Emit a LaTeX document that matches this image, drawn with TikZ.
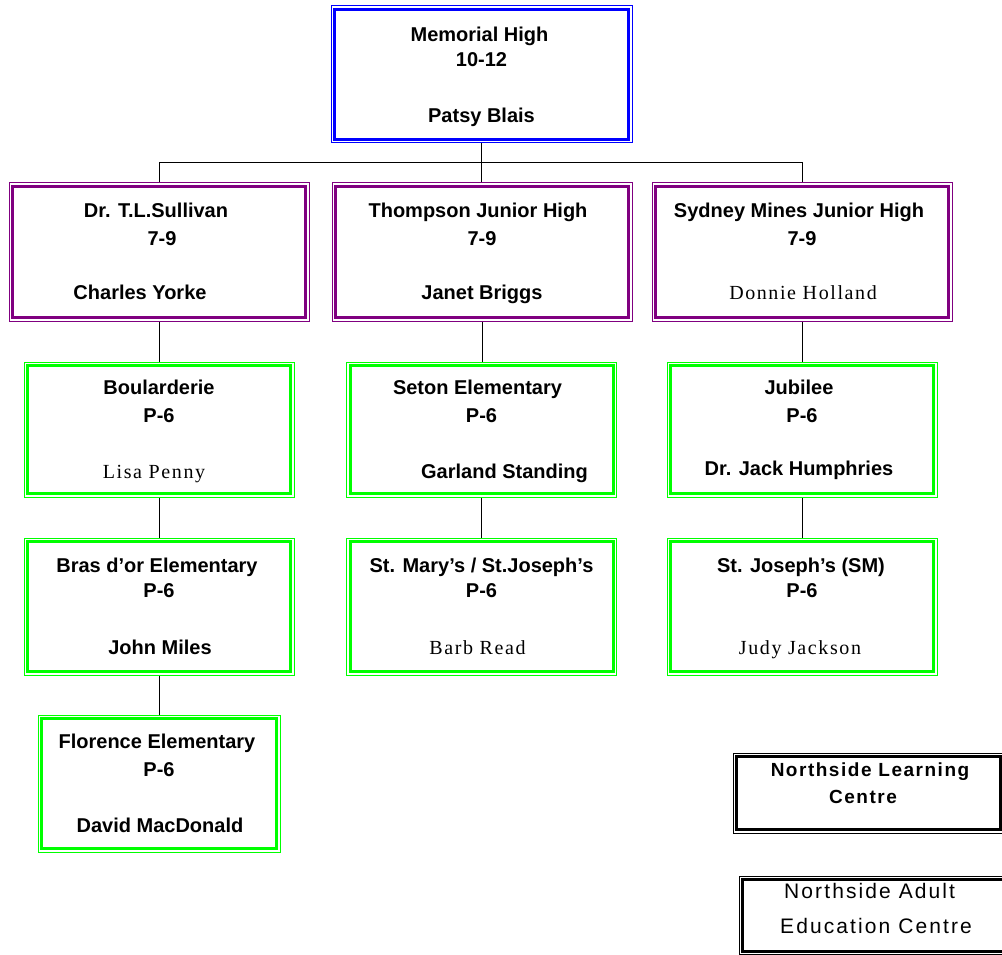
\documentclass[tikz,border=0pt]{standalone}
\usepackage{fontspec}
\setmainfont{Liberation Sans}
\newfontfamily\serifnm{Liberation Serif}[LetterSpace=8]
\newfontfamily\widebold{Liberation Sans}[LetterSpace=8]
\newfontfamily\widereg{Liberation Sans}[LetterSpace=10]
\usetikzlibrary{backgrounds,calc}
\definecolor{mhblue}{RGB}{0,0,255}
\definecolor{jhpurple}{RGB}{128,0,128}
\definecolor{elgreen}{RGB}{0,255,0}
\tikzset{
  frame/.style={draw=#1, fill=white, line width=3pt,
    preaction={draw=#1, line width=8pt},
    preaction={draw=white, line width=6pt},
    inner sep=0pt, outer sep=0pt},
  ttl/.style={anchor=base, inner sep=0pt, font=\bfseries\fontsize{20}{24}\selectfont},
  nmb/.style={anchor=base, inner sep=0pt, font=\bfseries\fontsize{20}{24}\selectfont},
  nms/.style={anchor=base, inner sep=0pt, font=\serifnm\fontsize{20}{24}\selectfont},
  conn/.style={draw=black, line width=1pt},
}
\begin{document}
\begin{tikzpicture}[x=1pt,y=-1pt]
\useasboundingbox (0,0) rectangle (1002,955);
\clip (0,0) rectangle (1002,955);

% Top
\node[frame=mhblue, line width=3.5pt, minimum width=294pt, minimum height=130pt] (mh) at (481.5,74.5) {};
\node[ttl] (mh-t) at ($(mh.north)+(-2,32)$) {Memorial High};
\node[ttl] (mh-g) at ($(mh.north)+(0,57.5)$) {10-12};
\node[nmb] (mh-n) at ($(mh.north)+(0,113.5)$) {Patsy Blais};

% Junior highs
\node[frame=jhpurple, minimum width=293pt, minimum height=131pt] (p1) at (159,252) {};
\node[ttl] (p1-t) at ($(p1.north)+(-3,31)$) {Dr. T.L.Sullivan};
\node[ttl] (p1-g) at ($(p1.north)+(3,59)$) {7-9};
\node[nmb] (p1-n) at ($(p1.north)+(-19,112.5)$) {Charles Yorke};

\node[frame=jhpurple, minimum width=293pt, minimum height=131pt] (p2) at (482,252) {};
\node[ttl] (p2-t) at ($(p2.north)+(-4,31)$) {Thompson Junior High};
\node[ttl] (p2-g) at ($(p2.north)+(0,59)$) {7-9};
\node[nmb] (p2-n) at ($(p2.north)+(0,112.5)$) {Janet Briggs};

\node[frame=jhpurple, minimum width=293pt, minimum height=131pt] (p3) at (802,252) {};
\node[ttl] (p3-t) at ($(p3.north)+(-3,31)$) {Sydney Mines Junior High};
\node[ttl] (p3-g) at ($(p3.north)+(0,59)$) {7-9};
\node[nms] (p3-n) at ($(p3.north)+(1,112.5)$) {Donnie Holland};

% Elementary row 1
\node[frame=elgreen, minimum width=263pt, minimum height=128pt] (g1) at (159,429.5) {};
\node[ttl] (g1-t) at ($(g1.north)+(0,28.5)$) {Boularderie};
\node[ttl] (g1-g) at ($(g1.north)+(0,56.5)$) {P-6};
\node[nms] (g1-n) at ($(g1.north)+(-5,112.5)$) {Lisa Penny};

\node[frame=elgreen, minimum width=263pt, minimum height=128pt] (g2) at (481.5,429.5) {};
\node[ttl] (g2-t) at ($(g2.north)+(-4,28.5)$) {Seton Elementary};
\node[ttl] (g2-g) at ($(g2.north)+(0,56.5)$) {P-6};
\node[nmb] (g2-n) at ($(g2.north)+(23,112.5)$) {Garland Standing};

\node[frame=elgreen, minimum width=263pt, minimum height=128pt] (g3) at (802,429.5) {};
\node[ttl] (g3-t) at ($(g3.north)+(-3,28.5)$) {Jubilee};
\node[ttl] (g3-g) at ($(g3.north)+(0,56.5)$) {P-6};
\node[nmb] (g3-n) at ($(g3.north)+(-3,110)$) {Dr. Jack Humphries};

% Elementary row 2
\node[frame=elgreen, minimum width=263pt, minimum height=130pt] (g4) at (159,606.5) {};
\node[ttl] (g4-t) at ($(g4.north)+(-2,31)$) {Bras d'or Elementary};
\node[ttl] (g4-g) at ($(g4.north)+(0,56)$) {P-6};
\node[nmb] (g4-n) at ($(g4.north)+(1,113)$) {John Miles};

\node[frame=elgreen, minimum width=263pt, minimum height=130pt] (g5) at (481.5,606.5) {};
\node[ttl] (g5-t) at ($(g5.north)+(0,31)$) {St. Mary's / St.Joseph's};
\node[ttl] (g5-g) at ($(g5.north)+(0,56)$) {P-6};
\node[nms] (g5-n) at ($(g5.north)+(-4,113)$) {Barb Read};

\node[frame=elgreen, minimum width=263pt, minimum height=130pt] (g6) at (802,606.5) {};
\node[ttl] (g6-t) at ($(g6.north)+(-1,31)$) {St. Joseph's (SM)};
\node[ttl] (g6-g) at ($(g6.north)+(0,56)$) {P-6};
\node[nms] (g6-n) at ($(g6.north)+(-2,113)$) {Judy Jackson};

% Elementary row 3
\node[frame=elgreen, minimum width=235pt, minimum height=130pt] (g7) at (159,783.5) {};
\node[ttl] (g7-t) at ($(g7.north)+(-2,29.5)$) {Florence Elementary};
\node[ttl] (g7-g) at ($(g7.north)+(0,58)$) {P-6};
\node[nmb] (g7-n) at ($(g7.north)+(1,114)$) {David MacDonald};

% Northside boxes
\node[frame=black, minimum width=263.5pt, minimum height=73pt] (nlc) at (868.25,793) {};
\node[anchor=base, inner sep=0pt, font=\widebold\bfseries\fontsize{19}{23}\selectfont] (nlc-1) at (870,776) {Northside Learning};
\node[anchor=base, inner sep=0pt, font=\widebold\bfseries\fontsize{19}{23}\selectfont] (nlc-2) at (863,803) {Centre};

\node[frame=black, minimum width=287.5pt, minimum height=71.5pt] (nae) at (886.25,915.25) {};
\node[anchor=base west, inner sep=0pt, font=\widereg\fontsize{21}{25}\selectfont] (nae-1) at (784,898) {Northside Adult};
\node[anchor=base west, inner sep=0pt, font=\widereg\fontsize{21}{25}\selectfont] (nae-2) at (780,933) {Education Centre};

% Connectors
\begin{pgfonlayer}{background}
\fill[white] (0,0) rectangle (1002,955);
\coordinate (bus) at (482,163);
\draw[conn] (mh.south) -- (mh.south |- p2.north);
\draw[conn] (p1.north) -- (p1.north |- bus) -- (p3.north |- bus) -- (p3.north);
\draw[conn] (p1.south) -- (g1.north);
\draw[conn] (p2.south) -- (p2.south |- g2.north);
\draw[conn] (p3.south) -- (g3.north);
\draw[conn] (g1.south) -- (g4.north);
\draw[conn] (g2.south) -- (g5.north);
\draw[conn] (g3.south) -- (g6.north);
\draw[conn] (g4.south) -- (g7.north);
\end{pgfonlayer}
\end{tikzpicture}
\end{document}
